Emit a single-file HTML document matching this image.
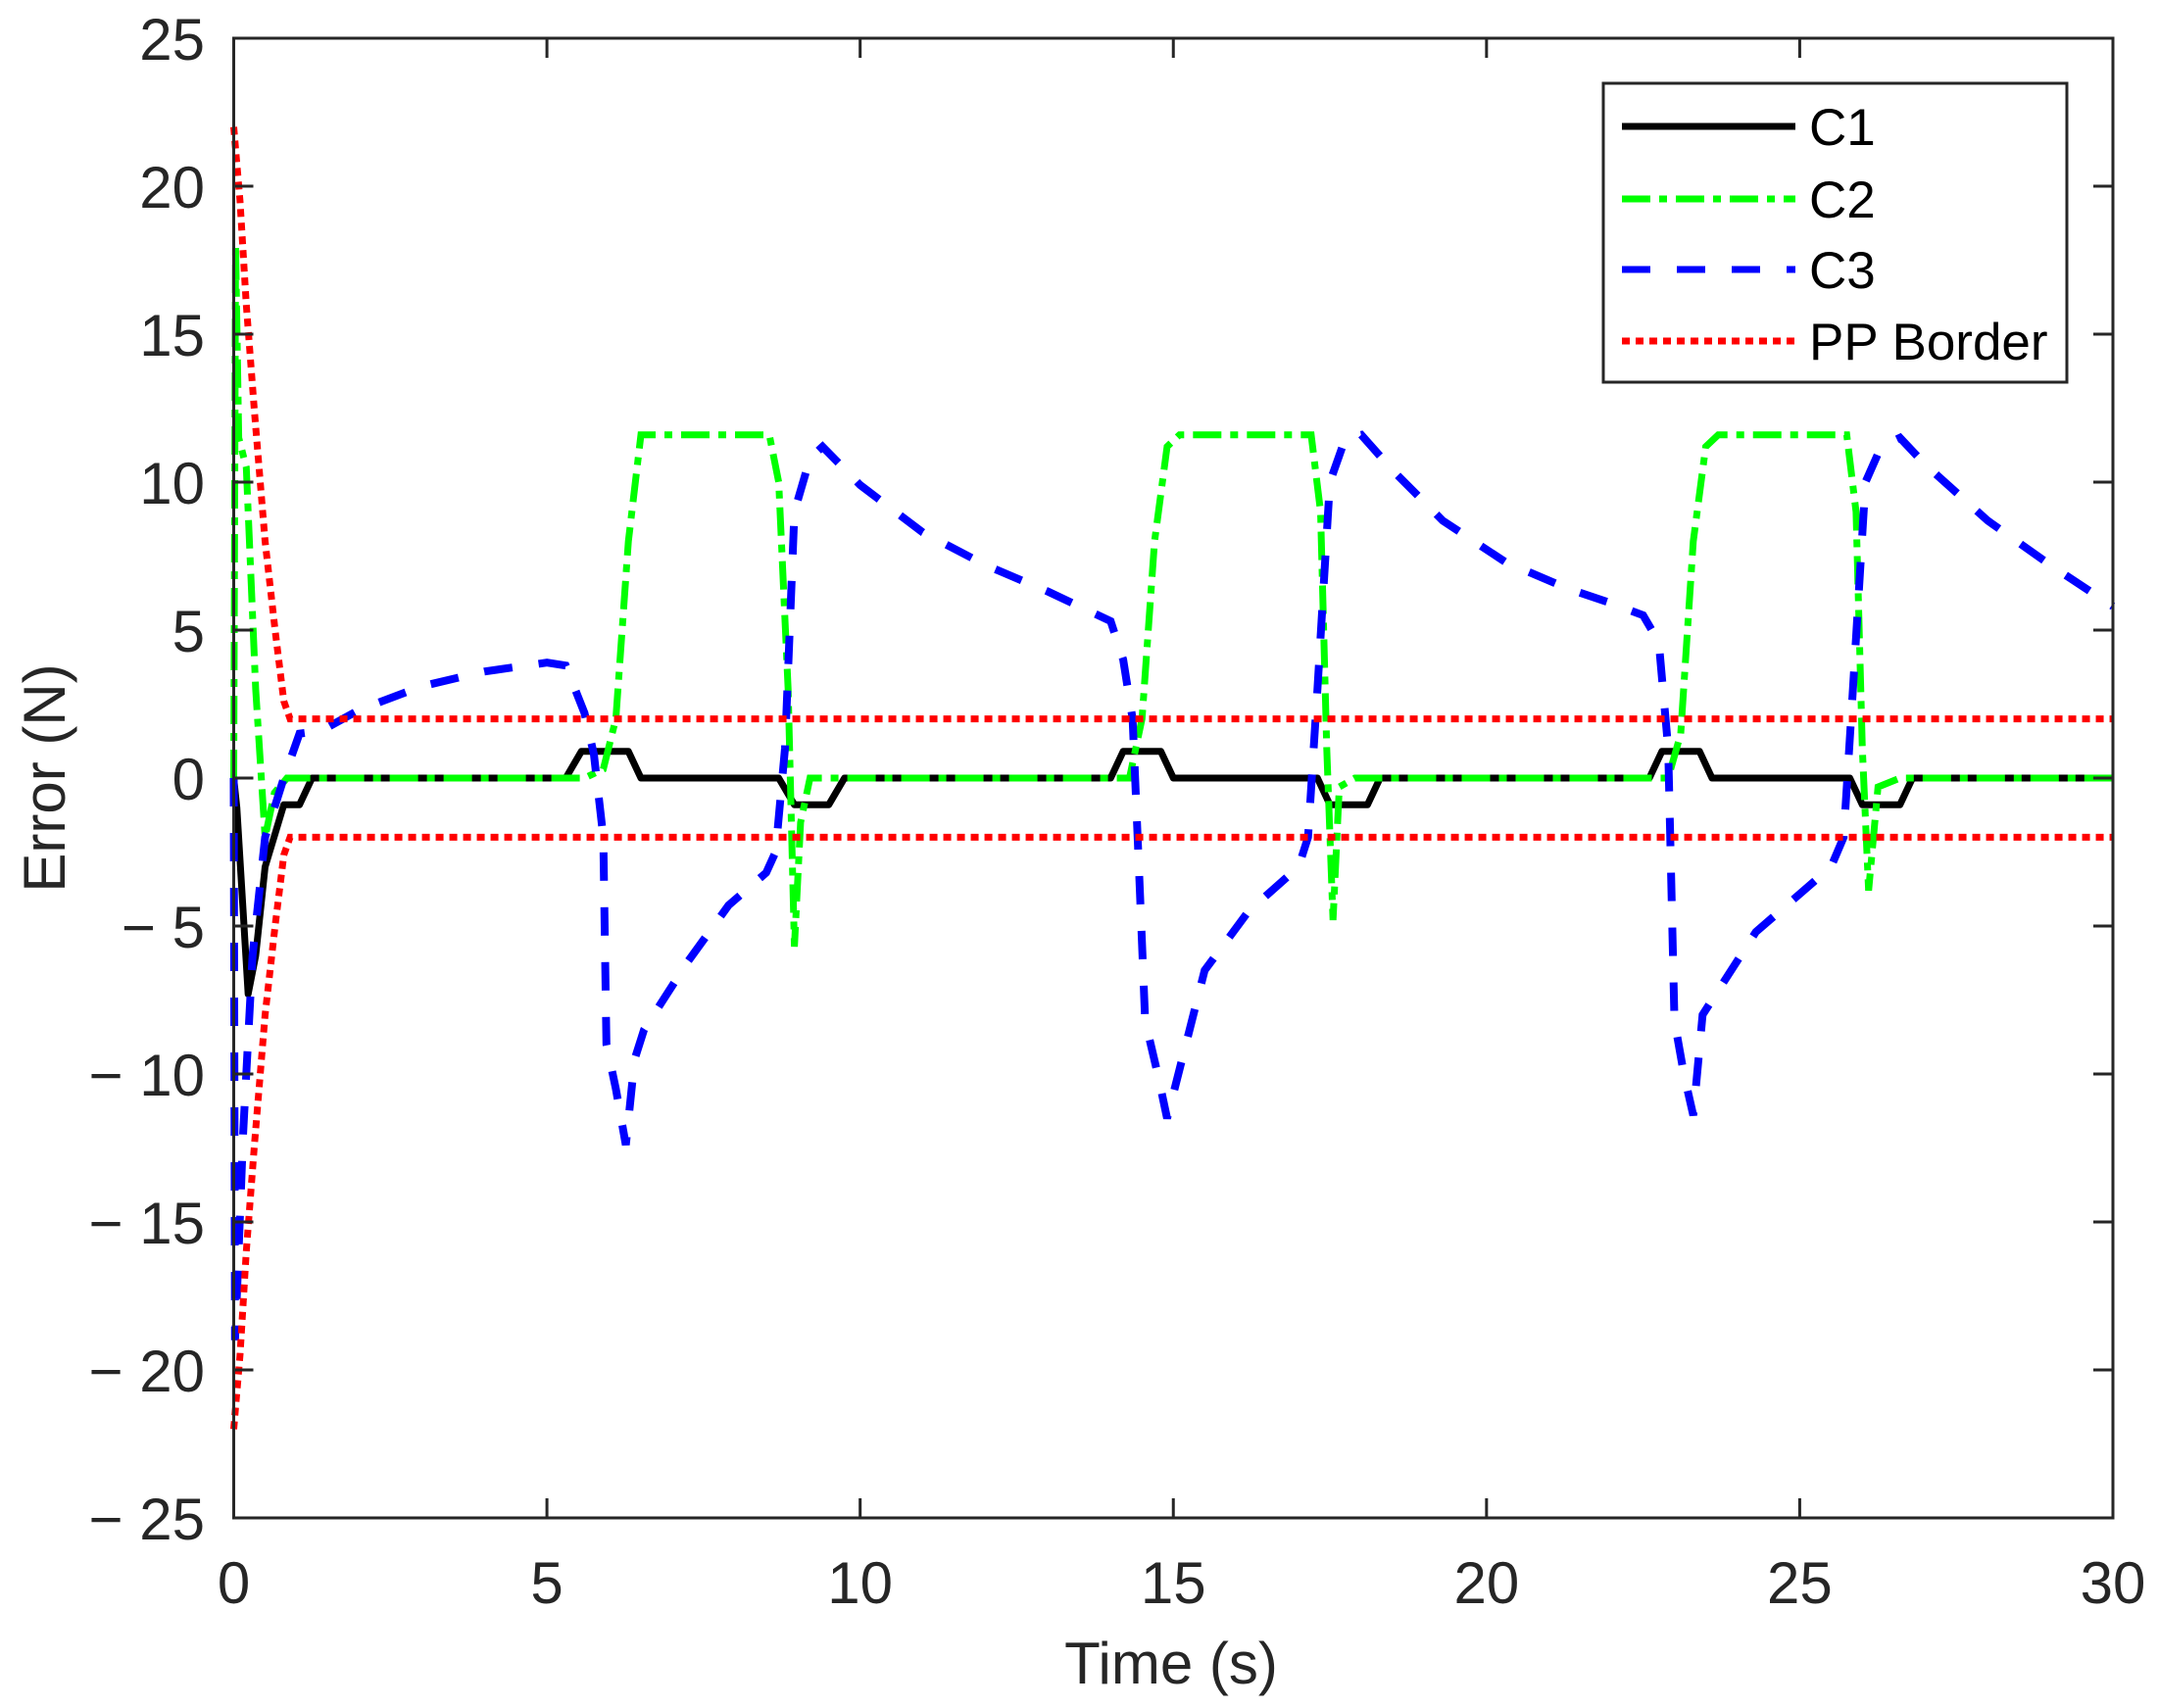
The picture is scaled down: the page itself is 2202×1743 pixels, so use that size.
<!DOCTYPE html>
<html><head><meta charset="utf-8"><style>
html,body{margin:0;padding:0;background:#fff;}
svg{display:block;font-family:"Liberation Sans",Arial,sans-serif;}
</style></head><body>
<svg id="chart" width="2202" height="1743" viewBox="0 0 2202 1743">
<rect width="2202" height="1743" fill="#fff"/>
<g id="series"></g>
<g id="axes"></g>
<g id="legend">
<rect x="1636" y="85" width="473" height="305" fill="#fff" stroke="#262626" stroke-width="3"/>
<g><line x1="1655" y1="129" x2="1832" y2="129" stroke="#000" stroke-width="7"/><text x="1846" y="148" font-size="53" fill="#000">C1</text></g>
<g><line x1="1655" y1="203" x2="1832" y2="203" stroke="#00ff00" stroke-width="7" stroke-dasharray="29 9 8 9"/><text x="1846" y="222" font-size="53" fill="#000">C2</text></g>
<g><line x1="1655" y1="275" x2="1832" y2="275" stroke="#0000ff" stroke-width="7" stroke-dasharray="29 27"/><text x="1846" y="294" font-size="53" fill="#000">C3</text></g>
<g><line x1="1655" y1="348" x2="1832" y2="348" stroke="#ff0000" stroke-width="7" stroke-dasharray="8 6"/><text x="1846" y="367" font-size="53" fill="#000">PP Border</text></g>
</g>
</svg>
<script>
const xTicks=[0,5,10,15,20,25,30];
const yTicks=[-25,-20,-15,-10,-5,0,5,10,15,20,25];
const c1T=[0,0.05,0.23,0.35,0.5,0.8,1.05,1.25,5.3,5.55,6.3,6.5,8.7,8.95,9.5,9.75,14.0,14.2,14.8,15.0,17.3,17.5,18.1,18.3,22.6,22.8,23.4,23.6,25.8,26.0,26.6,26.8,30];
const c1V=[0,-1,-7.3,-6,-3,-0.9,-0.9,0,0,0.9,0.9,0,0,-0.9,-0.9,0,0,0.9,0.9,0,0,-0.9,-0.9,0,0,0.9,0.9,0,0,-0.9,-0.9,0,0];
const c2T=[0,0.03,0.08,0.2,0.35,0.5,0.65,0.85,5.6,5.9,6.1,6.3,6.5,8.55,8.7,8.85,8.95,9.05,9.2,9.5,14.3,14.5,14.7,14.9,15.1,17.2,17.35,17.45,17.55,17.65,17.9,22.9,23.1,23.3,23.5,23.7,25.75,25.9,26.0,26.1,26.25,26.6,30];
const c2V=[0,18,11.5,10.5,3,-2,-0.5,0,0,0.3,2,8,11.6,11.6,10,3,-5.7,-1.5,0,0,0,2,8,11.2,11.6,11.6,9,1,-4.8,-0.3,0,0,1.5,8,11.2,11.6,11.6,9,1,-3.8,-0.3,0,0];
const c3T=[0,0.02,0.06,0.15,0.3,0.5,0.8,1.05,1.4,2,3,4,5,5.3,5.6,5.75,5.9,5.95,6.1,6.26,6.4,6.55,7.25,7.9,8.5,8.65,8.8,8.95,9.2,9.4,10,11,12,13,13.6,14.0,14.2,14.35,14.45,14.55,14.75,14.9,15.5,16.2,17.0,17.15,17.3,17.5,17.75,18.0,18.5,19.3,20.3,21.3,22.0,22.5,22.75,22.9,23.0,23.15,23.3,23.45,24.3,25.5,25.7,25.85,26.05,26.3,26.6,27,28,29,30];
const c3V=[0,-19,-17,-12,-6,-2,0,1.5,1.6,2.3,3.1,3.6,3.9,3.8,2.2,0.8,-2,-9,-10.5,-12.4,-9.5,-8.5,-6.2,-4.3,-3.2,-2.5,1,9,10.8,11.2,9.9,8.3,7.2,6.3,5.7,5.3,4.0,2,-3,-8.2,-10,-11.5,-6.5,-4.5,-3,-2,3,10,11.5,11.6,10.4,8.7,7.3,6.4,5.9,5.5,4.6,1,-8.2,-10,-11.4,-8,-5.2,-3,-2,3,10,11.2,11.5,10.6,8.7,7.2,5.8];
const ppT=[0,0.1,0.2,0.33,0.5,0.66,0.8,0.9,30];
const ppV=[22,19.5,16,12.4,8,5,2.6,2,2];

const L=238.5,R=2156,T=39,B=1549;
const xS=t=>L+t*(R-L)/30;
const yS=v=>T+(25-v)*(B-T)/50;
const NS='http://www.w3.org/2000/svg';
function mk(tag,attrs,parent){const e=document.createElementNS(NS,tag);for(const k in attrs)e.setAttribute(k,attrs[k]);parent.appendChild(e);return e;}
const series=document.getElementById('series');
function pts(ts,vs,sign){return ts.map((t,i)=>xS(t).toFixed(1)+','+yS(sign*vs[i]).toFixed(1)).join(' ');}
let p;
p=mk('polyline',{points:pts(c1T,c1V,1),fill:'none',stroke:'#000','stroke-width':7,'stroke-linejoin':'round'},series);


p=mk('polyline',{points:pts(c2T,c2V,1),fill:'none',stroke:'#00ff00','stroke-width':7,'stroke-dasharray':'29 9 8 9'},series);


p=mk('polyline',{points:pts(c3T,c3V,1),fill:'none',stroke:'#0000ff','stroke-width':8,'stroke-dasharray':'29 27'},series);


p=mk('polyline',{points:pts(ppT,ppV,1),fill:'none',stroke:'#ff0000','stroke-width':7,'stroke-dasharray':'8 6'},series);


p=mk('polyline',{points:pts(ppT,ppV,-1),fill:'none',stroke:'#ff0000','stroke-width':7,'stroke-dasharray':'8 6'},series);



const axes=document.getElementById('axes');
p=mk('rect',{x:L,y:T,width:R-L,height:B-T,fill:'none',stroke:'#262626','stroke-width':3},axes);


xTicks.forEach(t=>{
  const x=xS(t);
  mk('line',{x1:x,y1:B,x2:x,y2:B-20,stroke:'#262626','stroke-width':3},axes);
  mk('line',{x1:x,y1:T,x2:x,y2:T+20,stroke:'#262626','stroke-width':3},axes);
  const tx=mk('text',{x:x,y:1636,'font-size':60,'text-anchor':'middle',fill:'#262626'},axes);
  tx.textContent=String(t);
  
  
});
yTicks.forEach(v=>{
  const y=yS(v);
  mk('line',{x1:L,y1:y,x2:L+20,y2:y,stroke:'#262626','stroke-width':3},axes);
  mk('line',{x1:R,y1:y,x2:R-20,y2:y,stroke:'#262626','stroke-width':3},axes);
  const tx=mk('text',{x:209,y:y+22,'font-size':60,'text-anchor':'end',fill:'#262626'},axes);
  tx.textContent=v<0?'\u2212 '+(-v):String(v);
  
  
});
let xt=mk('text',{x:1195,y:1718,'font-size':60,'text-anchor':'middle',fill:'#262626'},axes);
xt.textContent='Time (s)';


let yt=mk('text',{x:0,y:0,'font-size':60,'text-anchor':'middle',fill:'#262626',transform:'translate(66,794) rotate(-90)'},axes);
yt.textContent='Error (N)';


</script>
</body></html>
